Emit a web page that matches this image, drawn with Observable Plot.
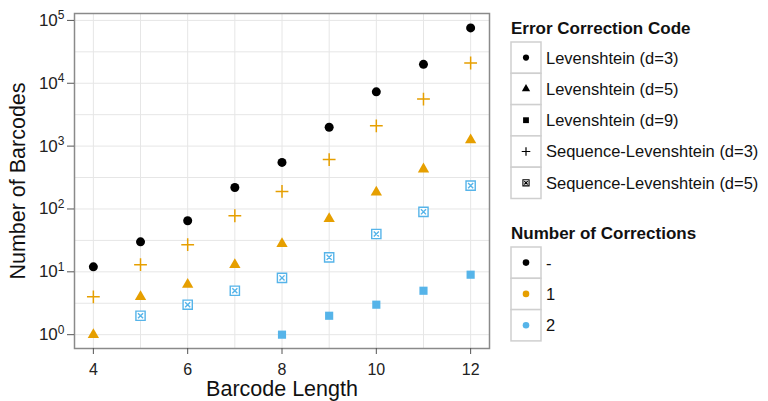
<!DOCTYPE html>
<html><head><meta charset="utf-8">
<script src="https://cdn.jsdelivr.net/npm/d3@7"></script>
<script src="https://cdn.jsdelivr.net/npm/@observablehq/plot@0.6"></script>
<style>
body{margin:0;background:#fff;}
#wrap{position:relative;width:768px;height:401px;font-family:"Liberation Sans",Arial,sans-serif;}
#legend{position:absolute;left:0;top:0;}
</style></head><body><div id="wrap"></div>
<script>
const barcodeLengths = [4,5,6,7,8,9,10,11,12];
const lev3Values = [12,30,65,220,550,2000,7300,20000,76000];
const seqLev3Values = [4,13,27,78,190,610,2100,5600,21000];
const lev5Values = [1,4,6.3,13,28,70,185,430,1250];
const seqLev5Lengths = [5,6,7,8,9,10,11,12];
const seqLev5Values = [2,3,5,8,17,40,90,235];
const lev9Lengths = [8,9,10,11,12];
const lev9Values = [1,2,3,5,9];
const codeNames = ["Levenshtein (d=3)","Levenshtein (d=5)","Levenshtein (d=9)","Sequence-Levenshtein (d=3)","Sequence-Levenshtein (d=5)"];
const codeCorrections = ["-","1","2","1","2"];
const correctionLabels = ["-","1","2"];
const correctionColors = ["#000000","#E69F00","#56B4E9"];
const yTicks = [1,10,100,1000,10000,100000];
const xTicks = [4,6,8,10,12];

const boxX = {draw(ctx,size){const s=Math.sqrt(size)/2;ctx.moveTo(-s,-s);ctx.lineTo(s,-s);ctx.lineTo(s,s);ctx.lineTo(-s,s);ctx.closePath();const t=s*0.55;ctx.moveTo(-t,-t);ctx.lineTo(t,t);ctx.moveTo(t,-t);ctx.lineTo(-t,t);}};

function series(code, xs, ys){ return xs.map((x,i)=>({length:x, n:ys[i], code:codeNames[code], corr:codeCorrections[code]})); }
const sLev3 = series(0, barcodeLengths, lev3Values);
const sLev5 = series(1, barcodeLengths, lev5Values);
const sLev9 = series(2, lev9Lengths, lev9Values);
const sSeq3 = series(3, barcodeLengths, seqLev3Values);
const sSeq5 = series(4, seqLev5Lengths, seqLev5Values);

const gridYVals = d3.range(0,11).map(k=>Math.pow(10,k/2));
const gridXVals = d3.range(4,13);

const chart = Plot.plot({
  width:768, height:401,
  marginLeft:74, marginRight:279, marginTop:13, marginBottom:53,
  style:{fontFamily:'"Liberation Sans",Arial,sans-serif', fontSize:"16px", color:"#222", background:"#fff"},
  x:{domain:[3.6,12.4], label:null},
  y:{type:"log", domain:[Math.pow(10,-0.22), Math.pow(10,5.11)], label:null},
  color:{domain:correctionLabels, range:correctionColors},
  marks:[
    Plot.gridX(gridXVals, {stroke:"#e6e6e6", strokeOpacity:1, strokeWidth:1}),
    Plot.gridY(gridYVals, {stroke:"#e6e6e6", strokeOpacity:1, strokeWidth:1}),
    Plot.frame({stroke:"#8a8a8a", strokeWidth:1.5}),
    Plot.axisX(xTicks, {tickSize:6, tickPadding:9, stroke:"#555", fontSize:16, fill:"#222", label:null}),
    Plot.axisY(yTicks, {tickSize:7, tickPadding:3, stroke:"#555", fontSize:17, fill:"#222", label:null, tickFormat:d=>"10^"+Math.round(Math.log10(d))}),
    Plot.dot(sLev3, {x:"length", y:"n", symbol:"circle", r:4.5, fill:"corr"}),
    Plot.dot(sLev5, {x:"length", y:"n", symbol:"triangle", r:4.2, fill:"corr"}),
    Plot.dot(sLev9, {x:"length", y:"n", symbol:"square", r:4.6, fill:"corr"}),
    Plot.dot(sSeq3, {x:"length", y:"n", symbol:"plus", r:4.2, stroke:"corr", strokeWidth:1.5}),
    Plot.dot(sSeq5, {x:"length", y:"n", symbol:boxX, r:5.2, stroke:"corr", fill:"white", strokeWidth:1.4}),
    Plot.text(["Barcode Length"], {frameAnchor:"bottom", dy:41, lineAnchor:"middle", textAnchor:"middle", text:d=>d, fontSize:21.5, fill:"#111"}),
    Plot.text(["Number of Barcodes"], {frameAnchor:"left", dx:-56, rotate:-90, lineAnchor:"middle", textAnchor:"middle", text:d=>d, fontSize:21.5, fill:"#111"})
  ]
});
document.getElementById("wrap").appendChild(chart);

// superscript exponents on the y tick labels
d3.select(chart).selectAll('[aria-label="y-axis tick label"] text').each(function(){
  const t = d3.select(this);
  const s = t.text();
  if (s.startsWith("10^")) {
    const k = s.slice(3);
    t.text(null);
    t.append("tspan").text("10");
    t.append("tspan").attr("dy","-0.55em").attr("font-size","12px").text(k);
  }
});

// legend
const lg = d3.select("#wrap").append("svg").attr("id","legend").attr("width",768).attr("height",401)
  .style("font-family",'"Liberation Sans",Arial,sans-serif');
function legendBlock(title, titleY, top, items){
  lg.append("text").attr("x",511).attr("y",titleY).attr("font-size",17).attr("font-weight","bold").attr("fill","#111").text(title);
  items.forEach((it,i)=>{
    const y0 = top + i*31.3;
    lg.append("rect").attr("x",511).attr("y",y0).attr("width",30).attr("height",31.3).attr("fill","white").attr("stroke","#cfcfcf").attr("stroke-width",1.5);
    const p = lg.append("path").attr("transform",`translate(526,${y0+15.6})`).attr("d", d3.symbol(it.type, it.size)());
    if (it.stroke) p.attr("fill", it.fillc || "none").attr("stroke", it.color).attr("stroke-width", it.sw||1.2);
    else p.attr("fill", it.color);
    lg.append("text").attr("x",546).attr("y",y0+15.6).attr("dy","0.36em").attr("font-size",16.5).attr("fill","#111").text(it.label);
  });
}
legendBlock("Error Correction Code", 34, 42, [
  {type:d3.symbolCircle, size:30, color:"#000", label:codeNames[0]},
  {type:d3.symbolTriangle, size:30, color:"#000", label:codeNames[1]},
  {type:d3.symbolSquare, size:34, color:"#000", label:codeNames[2]},
  {type:d3.symbolPlus, size:26, color:"#000", stroke:true, sw:1.2, label:codeNames[3]},
  {type:boxX, size:38, color:"#000", stroke:true, fillc:"white", sw:1.1, label:codeNames[4]}
]);
legendBlock("Number of Corrections", 239, 247, correctionLabels.map((c,i)=>({type:d3.symbolCircle, size:34, color:correctionColors[i], label:c})));
</script></body></html>
